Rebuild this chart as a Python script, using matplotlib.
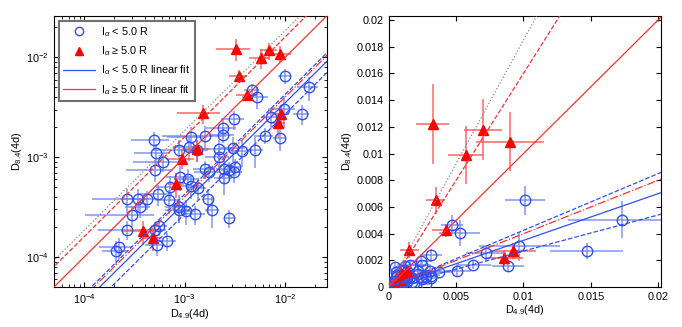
import numpy as np
import matplotlib.pyplot as plt
from matplotlib.ticker import FuncFormatter, MultipleLocator

plt.rcParams['font.family'] = ['Liberation Sans', 'DejaVu Sans']
plt.rcParams['mathtext.fontset'] = 'custom'
plt.rcParams['mathtext.rm'] = 'Liberation Sans'
plt.rcParams['mathtext.it'] = 'Liberation Sans:italic'
plt.rcParams['mathtext.sf'] = 'Liberation Sans'
plt.rcParams['font.size'] = 7.8

# Datos: I_alpha < 5.0 R (círculos azules)
azul_x = [1.01e-2, 1.73e-2, 4.70e-3, 5.26e-3, 9.7e-3, 7.23e-3, 1.47e-2, 3.13e-3, 2.42e-3, 2.44e-3,
          1.60e-3, 1.17e-3, 4.95e-4, 6.26e-3, 8.87e-3, 8.8e-4, 1.12e-3, 1.33e-3, 2.18e-3, 3.06e-3,
          3.72e-3, 5.07e-3, 5.15e-4, 6.08e-4, 2.19e-3, 5.1e-4, 1.61e-3, 1.75e-3, 2.47e-3, 2.79e-3,
          3.17e-3, 3.1e-3, 9.1e-4, 1.08e-3, 2.45e-3, 1.16e-3, 1.35e-3, 7.17e-4, 5.47e-4, 2.69e-4,
          3.45e-4, 4.26e-4, 7.06e-4, 3.58e-4, 8.87e-4, 8.87e-4, 1.03e-3, 1.73e-3, 1.88e-3, 1.28e-3,
          3.01e-4, 2.79e-3, 2.69e-4, 5.63e-4, 5.07e-4, 5.26e-4, 6.7e-4, 2.21e-4, 2.10e-4]
azul_y = [6.5e-3, 5.04e-3, 4.67e-3, 4.06e-3, 3.05e-3, 2.52e-3, 2.70e-3, 2.39e-3, 1.95e-3, 1.69e-3,
          1.65e-3, 1.61e-3, 1.50e-3, 1.65e-3, 1.55e-3, 1.18e-3, 1.26e-3, 1.19e-3, 1.20e-3, 1.24e-3,
          1.15e-3, 1.18e-3, 1.10e-3, 9.05e-4, 1.0e-3, 7.4e-4, 7.58e-4, 7.13e-4, 7.58e-4, 7.4e-4,
          8.06e-4, 7.07e-4, 6.35e-4, 6.06e-4, 6.2e-4, 5.2e-4, 4.89e-4, 5.08e-4, 4.25e-4, 3.79e-4,
          3.79e-4, 3.79e-4, 3.73e-4, 3.15e-4, 3.17e-4, 2.98e-4, 2.9e-4, 3.79e-4, 2.96e-4, 2.68e-4,
          2.62e-4, 2.46e-4, 1.88e-4, 2.03e-4, 1.85e-4, 1.32e-4, 1.46e-4, 1.25e-4, 1.14e-4]
azul_xerr = [1.5e-3, 4e-3, 8e-4, 1.5e-3, 3e-3, 1.5e-3, 2.7e-3, 8e-4, 8e-4, 7e-4,
             1e-3, 5e-4, 2e-4, 1.3e-3, 1.2e-3, 4e-4, 3.5e-4, 4e-4, 7e-4, 9e-4,
             1e-3, 1e-3, 2e-4, 3e-4, 6e-4, 2.5e-4, 4e-4, 5e-4, 4e-4, 5e-4,
             5e-4, 6e-4, 2.5e-4, 3e-4, 5e-4, 3e-4, 3e-4, 2e-4, 2e-4, 1.5e-4,
             1e-4, 1.2e-4, 2e-4, 1e-4, 2.5e-4, 2.5e-4, 2.5e-4, 2.5e-4, 3e-4, 3e-4,
             2e-4, 3e-4, 1.3e-4, 1e-4, 1.5e-4, 1.2e-4, 1.5e-4, 8e-5, 6e-5]
azul_yerr = [1.1e-3, 1.4e-3, 7e-4, 1e-3, 1.1e-3, 6e-4, 6e-4, 5e-4, 4e-4, 3e-4,
             4e-4, 4e-4, 3e-4, 3e-4, 4e-4, 3e-4, 3.5e-4, 3e-4, 3e-4, 3.5e-4,
             3.5e-4, 4e-4, 2.5e-4, 2e-4, 2.5e-4, 1.8e-4, 1.5e-4, 1.5e-4, 2e-4, 1.5e-4,
             1.5e-4, 1.5e-4, 1.8e-4, 1.5e-4, 2e-4, 1.4e-4, 1.2e-4, 1.4e-4, 1e-4, 1e-4,
             1e-4, 8e-5, 1e-4, 7e-5, 1e-4, 8e-5, 8e-5, 1e-4, 1e-4, 6e-5,
             6e-5, 5e-5, 4e-5, 4e-5, 4e-5, 3e-5, 3e-5, 3e-5, 3e-5]

# Datos: I_alpha >= 5.0 R (triángulos rojos)
rojo_x = [3.25e-3, 7.0e-3, 9.0e-3, 5.72e-3, 3.5e-3, 4.23e-3, 1.54e-3, 9.2e-3, 8.53e-3, 1.34e-3,
          9.5e-4, 8.28e-4, 3.83e-4, 4.81e-4]
rojo_y = [1.22e-2, 1.18e-2, 1.09e-2, 9.9e-3, 6.5e-3, 4.25e-3, 2.75e-3, 2.7e-3, 2.2e-3, 1.2e-3,
          9.7e-4, 5.4e-4, 1.82e-4, 1.56e-4]
rojo_xerr = [1.2e-3, 1.4e-3, 2.5e-3, 1.3e-3, 7e-4, 1e-3, 7e-4, 1.7e-3, 1.4e-3, 4e-4,
             3e-4, 1.5e-4, 1.5e-4, 1e-4]
rojo_yerr = [3e-3, 2.3e-3, 2.2e-3, 2.2e-3, 1e-3, 5e-4, 6e-4, 6e-4, 6e-4, 3e-4,
             2e-4, 1.5e-4, 5e-5, 4e-5]

# Pendientes de los ajustes lineales (y = a*x)
pend_rojo = 1.0
pend_rojo_sup = 1.6
pend_gris = 1.85
pend_rojo_dd = 0.40
pend_azul = 0.35
pend_azul_sup = 0.425
pend_azul_inf = 0.27

azul = '#3050f0'
azul_err = '#7088f0'
rojo = '#ff0000'
rojo_lin = '#ff3030'

fig = plt.figure(figsize=(6.82, 3.27), dpi=100)
ax1 = fig.add_axes([0.079, 0.122, 0.400, 0.829])
ax2 = fig.add_axes([0.570, 0.122, 0.399, 0.829])


def dibujar(ax, xs):
    ax.errorbar(azul_x, azul_y, xerr=azul_xerr, yerr=azul_yerr, fmt='none',
                ecolor=azul_err, elinewidth=1.3, alpha=0.75, capsize=0, zorder=2)
    ax.errorbar(rojo_x, rojo_y, xerr=rojo_xerr, yerr=rojo_yerr, fmt='none',
                ecolor='#ff5050', elinewidth=1.3, alpha=0.75, capsize=0, zorder=2)
    h1, = ax.plot(azul_x, azul_y, 'o', mfc='none', mec=azul, ms=7.5, mew=1.0,
                  zorder=3, label=r'I$_{\alpha}$ < 5.0 R')
    h2, = ax.plot(rojo_x, rojo_y, '^', color=rojo, ms=7.5, zorder=3,
                  label=r'I$_{\alpha}$ ≥ 5.0 R')
    ax.plot(xs, pend_gris * xs, ':', color='#888888', lw=0.9, zorder=4)
    ax.plot(xs, pend_rojo_sup * xs, '--', color=rojo_lin, lw=0.9, zorder=4)
    ax.plot(xs, pend_rojo_dd * xs, '-.', color=rojo_lin, lw=0.9, zorder=4)
    ax.plot(xs, pend_azul_sup * xs, '--', color=azul, lw=0.9, zorder=4)
    ax.plot(xs, pend_azul_inf * xs, '--', color=azul, lw=0.9, zorder=4)
    h3, = ax.plot(xs, pend_azul * xs, '-', color=azul, lw=0.9, zorder=4,
                  label=r'I$_{\alpha}$ < 5.0 R linear fit')
    h4, = ax.plot(xs, pend_rojo * xs, '-', color=rojo_lin, lw=0.9, zorder=4,
                  label=r'I$_{\alpha}$ ≥ 5.0 R linear fit')
    ax.set_xlabel(r'D$_{4.9}$(4d)', labelpad=1)
    ax.set_ylabel(r'D$_{8.4}$(4d)', labelpad=2)
    ax.tick_params(which='both', direction='in', top=True, right=True)
    ax.tick_params(which='major', length=3.5)
    ax.tick_params(which='minor', length=2)
    return [h1, h2, h3, h4]


# Panel logarítmico
ax1.set_xscale('log')
ax1.set_yscale('log')
handles = dibujar(ax1, np.array([1e-5, 1e-1]))
ax1.set_xlim(5e-5, 2.6e-2)
ax1.set_ylim(5e-5, 2.6e-2)
leg = ax1.legend(handles=handles, loc='upper left', fancybox=False, framealpha=1,
                 edgecolor='#707070', handlelength=2.9, labelspacing=0.5,
                 borderaxespad=0.45, markerscale=0.8, handletextpad=0.6)
leg.get_frame().set_linewidth(1.5)

# Panel lineal
dibujar(ax2, np.array([0, 0.03]))
ax2.set_xlim(0, 0.0202)
ax2.set_ylim(0, 0.0203)
ax2.xaxis.set_major_locator(MultipleLocator(0.005))
ax2.yaxis.set_major_locator(MultipleLocator(0.002))
fmt = FuncFormatter(lambda v, p: '%g' % round(v, 6))
ax2.xaxis.set_major_formatter(fmt)
ax2.yaxis.set_major_formatter(fmt)

fig.savefig('out.png', dpi=100)
